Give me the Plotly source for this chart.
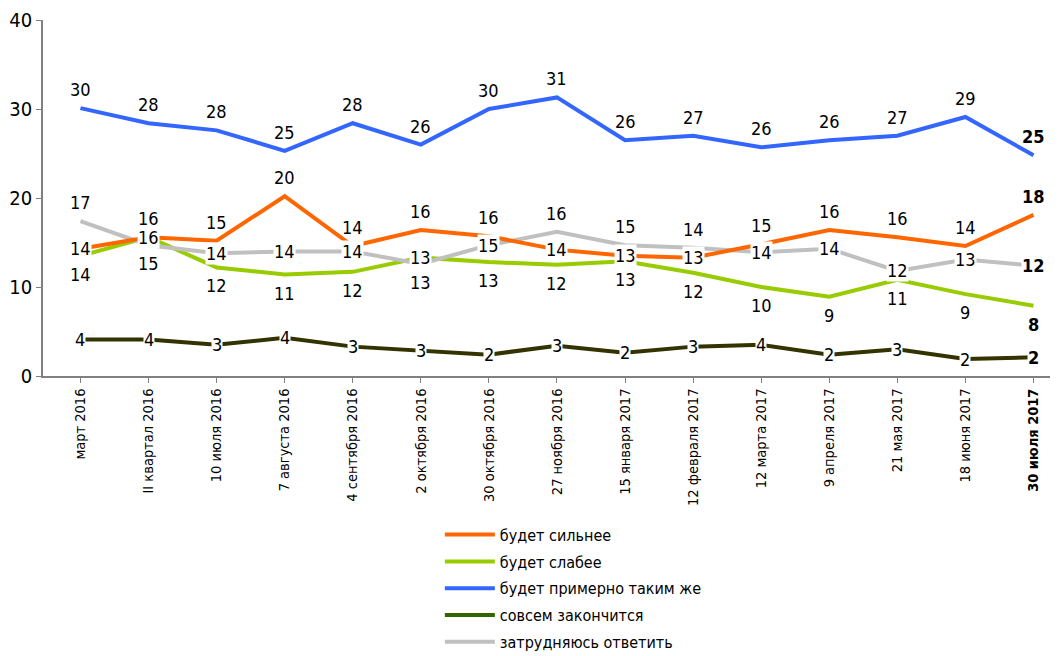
import plotly.graph_objects as go

categories = ["март 2016", "II квартал 2016", "10 июля 2016", "7 августа 2016", "4 сентября 2016",
              "2 октября 2016", "30 октября 2016", "27 ноября 2016", "15 января 2017", "12 февраля 2017",
              "12 марта 2017", "9 апреля 2017", "21 мая 2017", "18 июня 2017", "30 июля 2017"]

stronger = [14.3, 15.6, 15.2, 20.2, 14.6, 16.4, 15.7, 14.2, 13.5, 13.3, 14.8, 16.4, 15.6, 14.6, 18.1]
weaker   = [13.5, 15.6, 12.2, 11.4, 11.7, 13.3, 12.8, 12.5, 12.9, 11.6, 10.0, 8.9, 10.8, 9.2, 7.9]
same     = [30.1, 28.4, 27.6, 25.3, 28.4, 26.0, 30.0, 31.3, 26.5, 27.0, 25.7, 26.5, 27.0, 29.1, 24.8]
ends     = [4.1, 4.1, 3.5, 4.3, 3.3, 2.9, 2.4, 3.4, 2.6, 3.3, 3.5, 2.4, 3.0, 1.9, 2.1]
unsure   = [17.4, 14.7, 13.8, 14.0, 14.0, 12.6, 14.7, 16.2, 14.7, 14.4, 13.9, 14.3, 11.8, 13.1, 12.4]

stronger_lbl = [14, 16, 15, 20, 14, 16, 16, 14, 13, 13, 15, 16, 16, 14, 18]
weaker_lbl   = [14, 16, 12, 11, 12, 13, 13, 12, 13, 12, 10, 9, 11, 9, 8]
same_lbl     = [30, 28, 28, 25, 28, 26, 30, 31, 26, 27, 26, 26, 27, 29, 25]
ends_lbl     = [4, 4, 3, 4, 3, 3, 2, 3, 2, 3, 4, 2, 3, 2, 2]
unsure_lbl   = [17, 15, 14, 14, 14, 13, 15, 16, 15, 14, 14, 14, 12, 13, 12]

# label placement: t = above, c = centred on line, b = below
stronger_pos = ["c", "t", "t", "t", "t", "t", "t", "c", "c", "c", "t", "t", "t", "t", "t"]
weaker_pos   = ["b", "c", "b", "b", "b", "c", "b", "b", "b", "b", "b", "b", "b", "b", "b"]
same_pos     = ["t"] * 15
ends_pos     = ["c"] * 15
unsure_pos   = ["t", "b", "c", "c", "c", "b", "c", "t", "t", "t", "c", "c", "c", "c", "c"]

names = ["будет сильнее", "будет слабее", "будет примерно таким же", "совсем закончится", "затрудняюсь ответить"]
line_colors = ["#FF6600", "#99CC00", "#3366FF", "#333300", "#C0C0C0"]
legend_colors = ["#FF6600", "#99CC00", "#3366FF", "#336600", "#C0C0C0"]

FONT = "Liberation Sans Narrow, DejaVu Sans Condensed, Arial Narrow, sans-serif"

series = [stronger, weaker, same, ends, unsure]
labels = [stronger_lbl, weaker_lbl, same_lbl, ends_lbl, unsure_lbl]
positions = [stronger_pos, weaker_pos, same_pos, ends_pos, unsure_pos]

fig = go.Figure()
x_idx = list(range(len(categories)))

draw_order = [3, 1, 4, 0, 2]
for i in draw_order:
    fig.add_trace(go.Scatter(x=x_idx, y=series[i], mode="lines",
                             line=dict(color=line_colors[i], width=4),
                             showlegend=False, hoverinfo="skip"))

for i in range(5):
    fig.add_trace(go.Scatter(x=[None], y=[None], mode="lines", name=names[i],
                             line=dict(color=legend_colors[i], width=4),
                             legendgroup=str(i)))

annotations = []
last = len(categories) - 1
for s, lb, ps in zip(series, labels, positions):
    for k, (v, t, p) in enumerate(zip(s, lb, ps)):
        txt = f"<b>{t}</b>" if k == last else str(t)
        a = dict(x=k, y=v, xref="x", yref="y", text=txt, showarrow=False,
                 font=dict(family=FONT, size=18, color="black"))
        if p == "t":
            a.update(yanchor="bottom", yshift=6)
        elif p == "b":
            a.update(yanchor="top", yshift=-6)
        else:
            a.update(yanchor="middle", bgcolor="white", borderpad=0)
        annotations.append(a)

ticktext = [c for c in categories[:-1]] + [f"<b>{categories[-1]}</b>"]

fig.update_layout(
    width=1050, height=648,
    margin=dict(l=35, r=0, t=12, b=280, autoexpand=False),
    paper_bgcolor="white", plot_bgcolor="white",
    font=dict(family=FONT, color="black"),
    annotations=annotations,
    xaxis=dict(range=[-0.55, 14.36], tickmode="array", tickvals=x_idx, ticktext=ticktext,
               tickangle=-90, tickson="boundaries", ticks="outside", ticklen=5,
               tickcolor="#808080", showline=True, linecolor="#808080", linewidth=1.5,
               showgrid=False, zeroline=False, automargin=False,
               tickfont=dict(family=FONT, size=14.5, color="black")),
    yaxis=dict(range=[0, 40], tickvals=[0, 10, 20, 30, 40], ticks="outside", ticklen=5,
               tickcolor="#808080", showline=True, linecolor="#808080", linewidth=1.5,
               showgrid=False, zeroline=False, automargin=False,
               tickfont=dict(family=FONT, size=20, color="black")),
    legend=dict(x=0.391, y=-0.398, xanchor="left", yanchor="top", orientation="v",
                traceorder="grouped", tracegroupgap=3, itemwidth=50,
                font=dict(family=FONT, size=16, color="black"), bgcolor="rgba(0,0,0,0)"),
)

fig.write_html("out.html")
